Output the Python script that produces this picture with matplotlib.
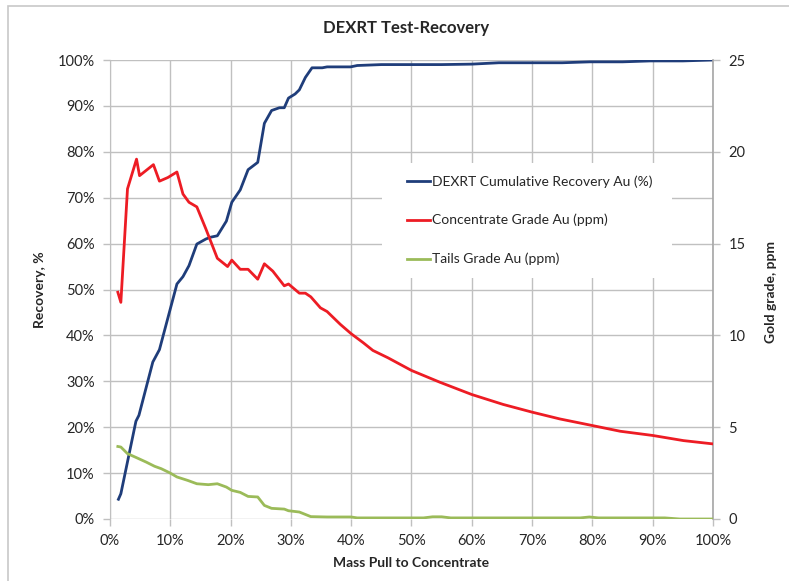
import matplotlib
matplotlib.use("Agg")
import matplotlib.pyplot as plt
from matplotlib.patches import Rectangle
from matplotlib.ticker import FuncFormatter

plt.rcParams['font.family'] = ['Lato', 'DejaVu Sans']

title = "DEXRT Test-Recovery"
xlabel = "Mass Pull to Concentrate"
ylabel_left = "Recovery, %"
ylabel_right = "Gold grade, ppm"
series_names = ["DEXRT Cumulative Recovery Au (%)", "Concentrate Grade Au (ppm)", "Tails Grade Au (ppm)"]

# Cumulative recovery (mass pull %, recovery %)
x_rec = [1.4, 1.8, 4.3, 4.8, 7.1, 8.2, 11.1, 12.1, 13.1, 14.4, 15.9, 16.7, 17.8, 19.3, 20.2, 21.6,
         22.9, 24.5, 25.6, 26.8, 28.1, 28.9, 29.6, 30.7, 31.4, 32.4, 33.5, 35.2, 36.0, 39.9, 41.0,
         45.0, 50.0, 55.0, 60.0, 64.5, 70.0, 75.0, 79.6, 85.0, 89.6, 95.0, 100.0]
y_rec = [4.3, 5.5, 21.3, 22.6, 34.2, 36.9, 51.2, 52.8, 55.2, 59.9, 61.0, 61.4, 61.7, 64.9, 69.0, 71.7,
         76.1, 77.7, 86.2, 89.0, 89.6, 89.6, 91.7, 92.6, 93.5, 96.2, 98.3, 98.3, 98.5, 98.5, 98.8,
         99.0, 99.0, 99.0, 99.1, 99.4, 99.4, 99.4, 99.6, 99.6, 99.8, 99.8, 100.0]

# Concentrate grade (mass pull %, ppm)
x_conc = [1.3, 1.8, 2.9, 4.4, 4.9, 7.2, 8.2, 9.6, 11.1, 12.1, 13.1, 14.4, 15.9, 17.8, 19.5, 20.2,
          21.6, 22.9, 24.5, 25.6, 27.0, 28.9, 29.6, 31.4, 32.4, 33.3, 34.9, 36.0, 38.2, 40.0, 42.0,
          43.6, 46.1, 50.0, 54.7, 60.0, 65.2, 70.0, 74.6, 80.0, 84.6, 90.0, 95.1, 100.0]
y_conc = [12.35, 11.8, 17.98, 19.6, 18.7, 19.3, 18.4, 18.6, 18.9, 17.7, 17.25, 17.0, 15.8, 14.2, 13.75,
          14.1, 13.6, 13.6, 13.06, 13.9, 13.5, 12.7, 12.8, 12.3, 12.3, 12.1, 11.5, 11.3, 10.6, 10.09,
          9.6, 9.18, 8.78, 8.09, 7.45, 6.78, 6.24, 5.82, 5.45, 5.09, 4.78, 4.55, 4.27, 4.09]

# Tails grade (mass pull %, ppm)
x_tail = [1.3, 1.8, 2.9, 4.4, 6.0, 7.4, 8.5, 10.0, 11.1, 12.9, 14.4, 16.3, 17.8, 19.3, 20.2, 21.6,
          22.9, 24.5, 25.6, 26.8, 28.9, 29.6, 31.4, 33.3, 36.0, 40.0, 41.0, 52.0, 53.5, 55.0, 56.5,
          78.0, 79.5, 81.0, 92.0, 94.5, 100.0]
y_tail = [3.95, 3.92, 3.56, 3.34, 3.1, 2.87, 2.74, 2.5, 2.29, 2.1, 1.92, 1.87, 1.92, 1.74, 1.56, 1.45,
          1.23, 1.2, 0.74, 0.58, 0.54, 0.45, 0.38, 0.13, 0.11, 0.11, 0.06, 0.06, 0.12, 0.12, 0.06,
          0.06, 0.11, 0.06, 0.06, 0.0, 0.0]

x_ticks = [0, 10, 20, 30, 40, 50, 60, 70, 80, 90, 100]
y_ticks_left = [0, 10, 20, 30, 40, 50, 60, 70, 80, 90, 100]
y_ticks_right = [0, 5, 10, 15, 20, 25]

W, H = 789, 581
fig = plt.figure(figsize=(W / 100, H / 100), dpi=100)
L, R, T, B = 110, 713, 60, 519
ax = fig.add_axes([L / W, 1 - B / H, (R - L) / W, (B - T) / H])
ax2 = ax.twinx()

grid_c = '#c0c0c0'
text_c = '#262626'
ax.set_xlim(0, 100)
ax.set_ylim(0, 100)
ax2.set_ylim(0, 25)
ax.set_xticks(x_ticks)
ax.set_yticks(y_ticks_left)
ax2.set_yticks(y_ticks_right)
ax.xaxis.set_major_formatter(FuncFormatter(lambda v, p: f"{v:.0f}%"))
ax.yaxis.set_major_formatter(FuncFormatter(lambda v, p: f"{v:.0f}%"))
ax.grid(True, color=grid_c, linewidth=1.0)
ax.set_axisbelow(True)

for a in (ax, ax2):
    for s in a.spines.values():
        s.set_visible(False)
    a.tick_params(colors=grid_c, labelcolor=text_c, labelsize=10.5, length=5, width=1, direction='out')
ax.spines['left'].set_visible(True)
ax.spines['left'].set_color(grid_c)
ax2.spines['right'].set_visible(True)
ax2.spines['right'].set_color('#a6a6a6')
ax2.spines['right'].set_linewidth(1.2)
ax.tick_params(axis='y', pad=6)
ax.tick_params(axis='x', pad=6)
ax2.tick_params(axis='y', pad=6)

l1, = ax.plot(x_rec, y_rec, color='#1f3d7a', lw=2.0, solid_joinstyle='round', zorder=3)
l2, = ax2.plot(x_conc, y_conc, color='#ed1c24', lw=2.0, solid_joinstyle='round', zorder=3)
l3, = ax2.plot(x_tail, y_tail, color='#9bbb59', lw=2.0, solid_joinstyle='round', zorder=3)

# legend background box
lx0, ly0, lx1, ly1 = 382, 163, 672, 278
ax2.add_patch(Rectangle(((lx0 - L) / (R - L), (B - ly1) / (B - T)), (lx1 - lx0) / (R - L),
                        (ly1 - ly0) / (B - T), transform=ax2.transAxes, facecolor='white',
                        edgecolor='none', zorder=4))
leg = ax2.legend([l1, l2, l3], series_names, loc='upper left', frameon=False,
                 bbox_to_anchor=(407 / W, 1 - 175 / H), bbox_transform=fig.transFigure,
                 borderpad=0, borderaxespad=0, handlelength=1.65, handletextpad=0.15,
                 labelspacing=1.9, fontsize=10)
leg.set_zorder(5)
for t in leg.get_texts():
    t.set_color(text_c)

fig.text(406 / W, 1 - 28 / H, title, ha='center', va='center', fontsize=12, fontweight='bold', color=text_c)
fig.text(411 / W, 1 - 563 / H, xlabel, ha='center', va='center', fontsize=10, fontweight='bold', color=text_c)
fig.text(40 / W, 1 - 290 / H, ylabel_left, ha='center', va='center', rotation=90, fontsize=10,
         fontweight='bold', color=text_c)
fig.text(771 / W, 1 - 292 / H, ylabel_right, ha='center', va='center', rotation=90, fontsize=10,
         fontweight='bold', color=text_c)

# outer chart border
fig.add_artist(Rectangle((8 / W, -0.05), 1.1, 1 - 6 / H + 0.05, transform=fig.transFigure,
                         facecolor='none', edgecolor='#c8c8c8', lw=1.2))

fig.savefig('out.png', dpi=100)
